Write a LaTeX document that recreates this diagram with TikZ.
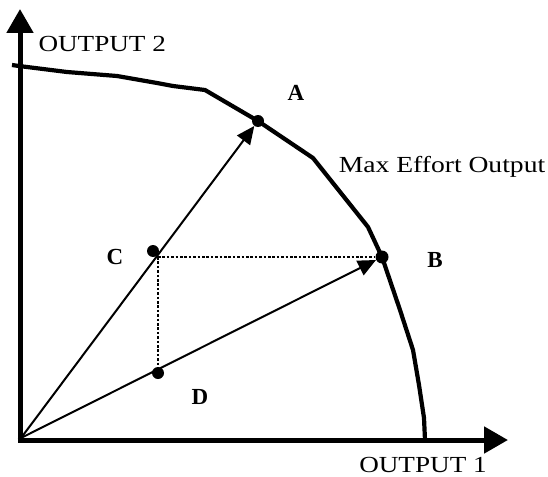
\documentclass[tikz,border=0pt]{standalone}
\usepackage{fontspec}
\setmainfont{Liberation Serif}
\usetikzlibrary{arrows.meta}
\begin{document}
\begin{tikzpicture}[x=1pt,y=-1pt,
  axis/.style={line width=5pt,-{Triangle[length=24pt,width=26pt]}},
  frontier/.style={line width=4.2pt,line join=round},
  ray/.style={line width=2pt,-{Triangle[length=18pt,width=16pt]}},
  guide/.style={line width=2.6pt,dash pattern=on 2.6pt off 1.8pt},
  dot/.style={circle,fill=black,inner sep=0pt,minimum size=#1},
  lbl/.style={font=\fontsize{23}{26}\selectfont},
  blbl/.style={font=\fontsize{23}{26}\selectfont\bfseries}]
\useasboundingbox (0,0) rectangle (548,476);
\coordinate (O) at (21,438);
\coordinate (Ybot) at (20,442.5);
\coordinate (Ytop) at (20,9);
\coordinate (Xbeg) at (17.5,440);
\coordinate (Xend) at (508,440);
\draw[frontier] (12,65) -- (19,66) -- (67,72) -- (117,76) -- (157,83) -- (173,86) -- (205,90) -- (258,121) -- (313,158) -- (368,227) -- (382,257) -- (400,310) -- (413,350) -- (419,385) -- (424,418) -- (425,440);
\draw[axis] (Ybot) -- (Ytop);
\draw[axis] (Xbeg) -- (Xend);
\node[dot=12pt] (A) at (258,121) {};
\node[dot=13pt] (B) at (382,257) {};
\node[dot=12pt] (C) at (153,251) {};
\node[dot=12pt] (D) at (158,373) {};
\coordinate (K) at (158,257);
\draw[ray] (O) -- (A);
\draw[ray] (O) -- (B);
\draw[guide] (K) -- (B.west);
\draw[guide] (K) -- (D.north);
\node[blbl] at (296,93) {A};
\node[blbl] at (435,260) {B};
\node[blbl] at (115,257) {C};
\node[blbl] at (200,397) {D};
\node[lbl] at (442,167) {\scalebox{1.2}[1]{Max Effort Output}};
\node[lbl,anchor=west] at (35,44) {\scalebox{1.18}[1]{OUTPUT 2}};
\node[lbl,anchor=base,inner sep=0pt] at (423,472) {\scalebox{1.18}[1]{OUTPUT 1}};
\end{tikzpicture}
\end{document}
